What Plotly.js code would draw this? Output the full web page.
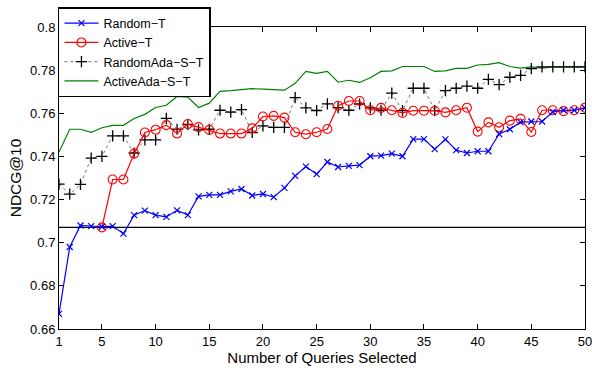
<!DOCTYPE html>
<html>
<head>
<meta charset="utf-8">
<script src="https://cdn.plot.ly/plotly-3.0.1.min.js"></script>
<style>html,body{margin:0;padding:0;background:#fff;}#chart{width:592px;height:370px;}</style>
</head>
<body>
<div id="chart"></div>
<script>
const queries = [1,2,3,4,5,6,7,8,9,10,11,12,13,14,15,16,17,18,19,20,21,22,23,24,25,26,27,28,29,30,31,32,33,34,35,36,37,38,39,40,41,42,43,44,45,46,47,48,49,50];
const xTicks = [1,5,10,15,20,25,30,35,40,45,50];
const yTicks = [0.66,0.68,0.70,0.72,0.74,0.76,0.78,0.80];
const yTickText = ['0.66','0.68','0.7','0.72','0.74','0.76','0.78','0.8'];

const randomT = [0.667,0.698,0.708,0.7077,0.7074,0.7077,0.7042,0.7128,0.7149,0.7128,
  0.7120,0.7150,0.7128,0.7215,0.7222,0.7222,0.7238,0.7249,0.7219,0.7226,
  0.7211,0.7254,0.7310,0.7353,0.7318,0.7374,0.7351,0.7356,0.7360,0.7401,
  0.7404,0.7413,0.7401,0.7480,0.7480,0.7434,0.7479,0.7429,0.7416,0.7424,
  0.7424,0.7504,0.7526,0.7559,0.7562,0.7562,0.7606,0.7614,0.7614,0.7625];

const activeT = [null,null,null,null,0.7071,0.7293,0.7293,0.7413,0.7511,0.7524,
  0.7545,0.7506,0.7550,0.7536,0.7523,0.7506,0.7506,0.7506,0.7530,0.7585,
  0.7588,0.7580,0.7512,0.7503,0.7512,0.7527,0.7635,0.7657,0.7657,0.7614,
  0.7625,0.7614,0.7602,0.7612,0.7612,0.7612,0.7604,0.7614,0.7626,0.7515,
  0.7558,0.7535,0.7566,0.7574,0.7513,0.7614,0.7614,0.7610,0.7614,0.7626];

const randomAdaST = [0.7272,0.7225,0.7270,0.7392,0.7400,0.7495,0.7495,0.7416,0.7477,0.7477,
  0.7576,0.7526,0.7549,0.7523,0.7526,0.7614,0.7605,0.7617,0.7511,0.7542,
  0.7535,0.7535,0.7673,0.7625,0.7613,0.7644,0.7626,0.7614,0.7643,0.7625,
  0.7614,0.7693,0.7612,0.7716,0.7716,0.7612,0.7705,0.7716,0.7726,0.7716,
  0.7757,0.7733,0.7767,0.7776,0.7807,0.7815,0.7815,0.7815,0.7815,0.7815];

const activeAdaST = [0.742,0.7526,0.7526,0.7512,0.7533,0.7544,0.7544,0.7576,0.7595,0.7627,
  0.7637,0.7678,0.7675,0.7627,0.7647,0.7702,0.7705,0.7708,0.7714,0.7712,
  0.7708,0.7707,0.7739,0.7794,0.7785,0.7794,0.7744,0.7753,0.7743,0.7765,
  0.7794,0.7797,0.7817,0.7817,0.7817,0.7794,0.7797,0.7808,0.7808,0.7824,
  0.7827,0.7835,0.7817,0.7809,0.7815,0.7809,0.7815,0.7815,0.7815,0.7815];

const baselineX = [1,50];
const baselineY = [0.7071,0.7071];

const FONT = 'Liberation Sans, Arial, Helvetica, sans-serif';

const traces = [
  {x: baselineX, y: baselineY, mode:'lines', showlegend:false, hoverinfo:'skip',
   line:{color:'#000', width:1.2}},
  {x: queries, y: activeAdaST, name:'ActiveAda−S−T', mode:'lines',
   line:{color:'#008000', width:1.2}},
  {x: queries, y: randomAdaST, name:'RandomAda−S−T', mode:'lines+markers',
   line:{color:'#777', width:1, dash:'dot'},
   marker:{symbol:'cross-thin-open', size:8, color:'#000', line:{color:'#000', width:1.3}}},
  {x: queries, y: activeT, name:'Active−T', mode:'lines+markers',
   line:{color:'#ff0000', width:1.2},
   marker:{symbol:'circle-open', size:9, color:'#ff0000', line:{color:'#ff0000', width:1.1}}},
  {x: queries, y: randomT, name:'Random−T', mode:'lines+markers',
   line:{color:'#0000ff', width:1.2},
   marker:{symbol:'x-thin-open', size:6, color:'#0000ff', line:{color:'#0000ff', width:1.2}}}
];

const layout = {
  width:592, height:370,
  margin:{l:59, r:7, t:22, b:41},
  paper_bgcolor:'#fff', plot_bgcolor:'#fff',
  font:{family:FONT, size:13, color:'#000'},
  showlegend:true,
  legend:{x:-0.002, y:1.066, xanchor:'left', yanchor:'top', traceorder:'reversed',
    bgcolor:'#fff', bordercolor:'#000', borderwidth:1.5,
    font:{family:FONT, size:12.5, color:'#000'}, itemwidth:34, tracegroupgap:0},
  xaxis:{range:[1,50], tickvals:xTicks, ticks:'inside', ticklen:5, tickcolor:'#000',
    showline:true, linecolor:'#000', linewidth:1, mirror:'ticks', showgrid:false, zeroline:false,
    ticklabeloverflow:'allow',
    tickfont:{family:FONT, size:13, color:'#000'},
    title:{text:'Number of Queries Selected', font:{family:FONT, size:15, color:'#000'}, standoff:0}},
  yaxis:{range:[0.66,0.80], tickvals:yTicks, ticktext:yTickText,
    ticks:'inside', ticklen:5, tickcolor:'#000',
    showline:true, linecolor:'#000', linewidth:1, mirror:'ticks', showgrid:false, zeroline:false,
    ticklabeloverflow:'allow',
    tickfont:{family:FONT, size:13, color:'#000'},
    title:{text:'NDCG@10', font:{family:FONT, size:15.5, color:'#000'}, standoff:4}}
};

Plotly.newPlot('chart', traces, layout, {staticPlot:true, displayModeBar:false});
</script>
</body>
</html>
